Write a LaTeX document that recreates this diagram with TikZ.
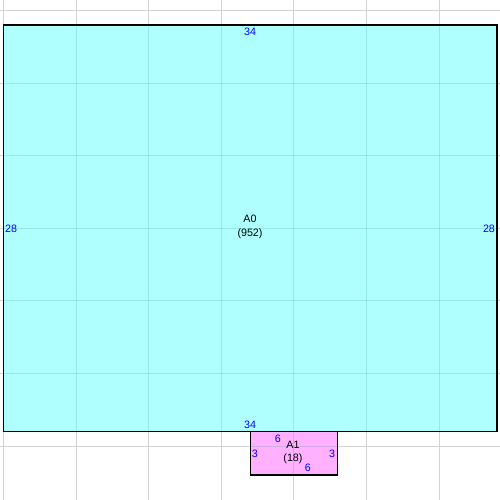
\documentclass[tikz,border=0pt]{standalone}
\usepackage{fontspec}
\setmainfont{Liberation Sans}
\usepackage{xcolor}
\usepackage{tikz}
\usetikzlibrary{backgrounds}

\definecolor{roomcyan}{RGB}{176,255,255}
\definecolor{roompink}{RGB}{255,176,255}
\definecolor{gridgray}{RGB}{211,211,211}
\definecolor{gridteal}{RGB}{64,160,160}

\tikzset{
  room/.style={draw=black, line width=1.1pt},
  dim/.style={text=blue, inner sep=0pt, font=\fontsize{8.4}{9.5}\selectfont},
  roomname/.style={align=center, inner sep=0pt, font=\fontsize{8.4}{10.5}\selectfont},
}

\begin{document}
\begin{tikzpicture}[x=0.4cm,y=0.4cm]
\useasboundingbox (-0.241,0.723) rectangle (34.2,-33.71);

% background grid
\foreach \i in {0,5,...,30} {
  \draw[gridgray, line width=0.7pt] (\i,0.723) -- (\i,-33.71);
  \draw[gridgray, line width=0.7pt] (-0.241,-\i) -- (34.2,-\i);
}

% rooms
\fill[roomcyan] (0,-1) rectangle (34,-29);
\fill[roompink] (17,-29) rectangle (23,-32);

% grid seen through the rooms
\begin{scope}
\clip (0,-1) rectangle (34,-29) (17,-29) rectangle (23,-32);
\foreach \i in {0,5,...,30} {
  \draw[gridteal, opacity=0.25, line width=0.7pt] (\i,0.723) -- (\i,-33.71);
  \draw[gridteal, opacity=0.25, line width=0.7pt] (-0.241,-\i) -- (34.2,-\i);
}
\end{scope}

\draw[room] (0,-1) rectangle (34,-29);
\draw[room] (17,-29) rectangle (23,-32);

% room A0
\node[roomname] (a0) at (16.98,-14.9) {A0\\(952)};
\node[dim] (a0top) at (16.98,-1.48) {34};
\node[dim] (a0bottom) at (16.98,-28.55) {34};
\node[dim] (a0left) at (0.52,-15.05) {28};
\node[dim] (a0right) at (33.44,-15.05) {28};

% room A1
\node[roomname] (a1) at (19.94,-30.45) {A1\\(18)};
\node[dim] (a1top) at (18.9,-29.51) {6};
\node[dim] (a1bottom) at (20.97,-31.51) {6};
\node[dim] (a1left) at (17.32,-30.54) {3};
\node[dim] (a1right) at (22.63,-30.54) {3};

\end{tikzpicture}
\end{document}
